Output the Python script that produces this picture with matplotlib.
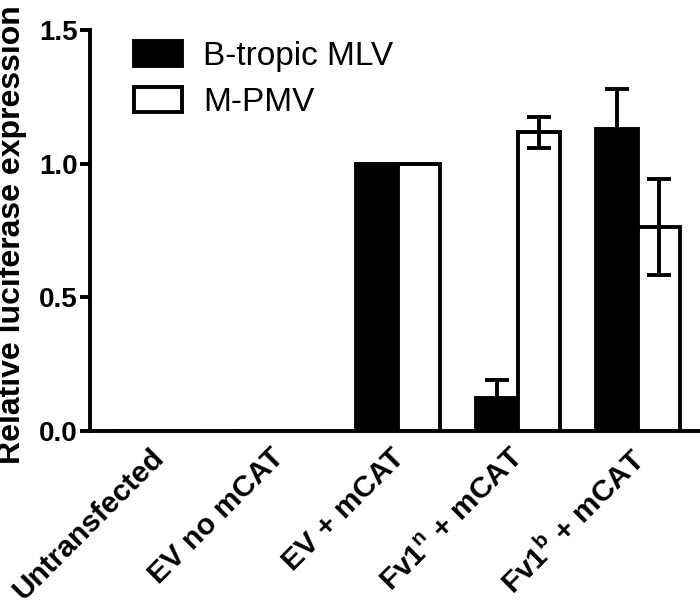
import matplotlib
matplotlib.use("Agg")
import matplotlib.pyplot as plt
import matplotlib.transforms as mtransforms
import numpy as np

plt.rcParams["font.family"] = ["Liberation Sans", "DejaVu Sans"]
plt.rcParams["mathtext.fontset"] = "custom"
plt.rcParams["mathtext.rm"] = "Liberation Sans"
plt.rcParams["mathtext.bf"] = "Liberation Sans:bold"

categories = [
    "Untransfected",
    "EV no mCAT",
    "EV + mCAT",
    "Fv1$^{\\bf n}$ + mCAT",
    "Fv1$^{\\bf b}$ + mCAT",
]
mlv_values = [0.0, 0.0, 1.0, 0.124, 1.131]
mlv_errors = [0.0, 0.0, 0.0, 0.066, 0.15]
pmv_values = [0.0, 0.0, 1.0, 1.118, 0.764]
pmv_errors = [0.0, 0.0, 0.0, 0.058, 0.18]
series_labels = ["B-tropic MLV", "M-PMV"]

fig = plt.figure(figsize=(7.0, 6.02), dpi=100)
ax = fig.add_axes([90 / 700, 1 - 431 / 602, 610 / 700, 401 / 602])

x = np.arange(len(categories))
width = 0.35
lw = 2.8

ax.bar(x - width / 2, mlv_values, width, color="black", edgecolor="black",
       linewidth=lw, label=series_labels[0], zorder=2)
ax.bar(x + width / 2, pmv_values, width, color="white", edgecolor="black",
       linewidth=lw, label=series_labels[1], zorder=2)

for offset, vals, errs in ((-width / 2, mlv_values, mlv_errors),
                           (width / 2, pmv_values, pmv_errors)):
    for xi, v, e in zip(x, vals, errs):
        if e > 0:
            ax.errorbar(xi + offset, v, yerr=e, fmt="none", ecolor="black",
                        elinewidth=lw, capsize=8.5, capthick=lw, zorder=3)

ax.set_xlim(-0.567, 4.52)
ax.set_ylim(0, 1.5)
ax.set_yticks([0.0, 0.5, 1.0, 1.5])
ax.set_yticklabels(["0.0", "0.5", "1.0", "1.5"])
ax.set_xticks(x)
ax.set_xticklabels(categories, rotation=45, ha="right", rotation_mode="anchor")

for side in ("top", "right"):
    ax.spines[side].set_visible(False)
for side in ("left", "bottom"):
    ax.spines[side].set_linewidth(lw)
    ax.spines[side].set_zorder(4)

ax.tick_params(axis="y", length=7, width=lw, pad=2, labelsize=20)
ax.tick_params(axis="x", length=0, pad=9, labelsize=21.5)
shift = mtransforms.ScaledTranslation(-0.08, 0.0, fig.dpi_scale_trans)
for lab in ax.get_xticklabels():
    lab.set_fontweight("bold")
    lab.set_transform(lab.get_transform() + shift)
for lab in ax.get_yticklabels():
    lab.set_fontweight("bold")

ax.set_ylabel("Relative luciferase expression", fontsize=23, fontweight="bold")
ax.yaxis.set_label_coords(-0.104, 0.49)

ax.legend(loc="upper left", bbox_to_anchor=(134 / 700, 1 - 41 / 602),
          bbox_transform=fig.transFigure, frameon=False, fontsize=24,
          handlelength=1.45, handleheight=0.78, handletextpad=0.62,
          borderpad=0, borderaxespad=0, labelspacing=0.45)

fig.savefig("out.png", dpi=100)
